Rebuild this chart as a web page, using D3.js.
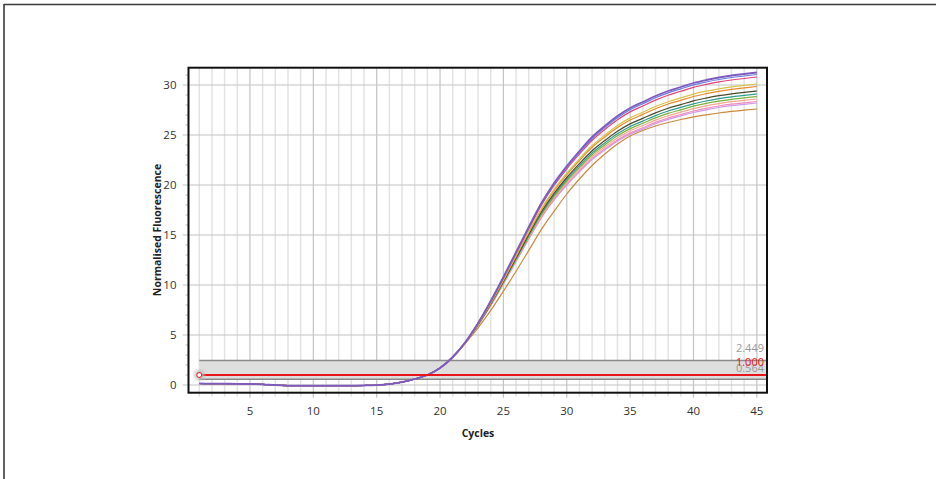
<!DOCTYPE html>
<html>
<head>
<meta charset="utf-8">
<script src="https://cdn.jsdelivr.net/npm/d3@7"></script>
<style>
  html, body { margin: 0; padding: 0; background: #fff; }
  svg { display: block; font-family: "Open Sans", "Noto Sans", sans-serif; }
</style>
</head>
<body>
<svg id="chart" width="936" height="479"></svg>
<script>
// Amplification run: normalised fluorescence per cycle for each well
const cycles = d3.range(1, 46);

const baseline = [0.15, 0.14, 0.13, 0.12, 0.10, 0.07, -0.02, -0.06, -0.07, -0.07, -0.07, -0.07, -0.06, -0.05, -0.02, 0.08, 0.28, 0.60];

const wellPurple = baseline.concat([1.00, 1.70, 2.80, 4.30, 6.20, 8.40, 10.80, 13.30, 15.80, 18.20, 20.20, 21.90, 23.40, 24.80, 25.90, 26.90, 27.70, 28.30, 28.90, 29.40, 29.80, 30.20, 30.50, 30.75, 30.95, 31.10, 31.25]);
const wellBlue = baseline.concat([1.00, 1.70, 2.80, 4.29, 6.18, 8.37, 10.76, 13.24, 15.72, 18.10, 20.09, 21.78, 23.26, 24.65, 25.74, 26.73, 27.53, 28.12, 28.72, 29.21, 29.61, 30.01, 30.30, 30.55, 30.75, 30.90, 31.05]);
const wellPink = baseline.concat([1.00, 1.70, 2.80, 4.28, 6.16, 8.33, 10.70, 13.16, 15.62, 17.99, 19.95, 21.62, 23.09, 24.47, 25.55, 26.53, 27.31, 27.90, 28.49, 28.98, 29.37, 29.77, 30.06, 30.31, 30.50, 30.65, 30.80]);
const wellYellow = baseline.concat([1.00, 1.70, 2.79, 4.26, 6.11, 8.23, 10.54, 12.95, 15.35, 17.65, 19.56, 21.18, 22.62, 23.95, 24.99, 25.95, 26.71, 27.28, 27.85, 28.33, 28.71, 29.09, 29.38, 29.62, 29.81, 29.96, 30.10]);
const wellOrange = baseline.concat([1.00, 1.70, 2.79, 4.25, 6.09, 8.19, 10.49, 12.87, 15.25, 17.53, 19.42, 21.03, 22.45, 23.77, 24.80, 25.74, 26.50, 27.06, 27.62, 28.10, 28.47, 28.85, 29.13, 29.37, 29.56, 29.71, 29.85]);
const wellOlive = baseline.concat([1.00, 1.69, 2.78, 4.24, 6.05, 8.13, 10.38, 12.73, 15.07, 17.32, 19.17, 20.75, 22.14, 23.43, 24.44, 25.37, 26.11, 26.66, 27.21, 27.68, 28.04, 28.41, 28.69, 28.93, 29.12, 29.26, 29.40]);
const wellTeal = baseline.concat([1.00, 1.69, 2.78, 4.23, 6.03, 8.08, 10.32, 12.64, 14.95, 17.17, 19.00, 20.56, 21.94, 23.21, 24.21, 25.12, 25.85, 26.39, 26.94, 27.40, 27.76, 28.12, 28.40, 28.63, 28.82, 28.96, 29.10]);
const wellGreen = baseline.concat([1.00, 1.69, 2.78, 4.22, 6.01, 8.05, 10.26, 12.56, 14.85, 17.05, 18.87, 20.40, 21.76, 23.03, 24.01, 24.92, 25.64, 26.17, 26.71, 27.16, 27.52, 27.88, 28.16, 28.39, 28.57, 28.71, 28.85]);
const wellSalmon = baseline.concat([1.00, 1.69, 2.78, 4.21, 5.99, 8.01, 10.20, 12.49, 14.76, 16.93, 18.73, 20.25, 21.59, 22.84, 23.81, 24.71, 25.42, 25.95, 26.49, 26.93, 27.29, 27.64, 27.91, 28.14, 28.33, 28.46, 28.60]);
const wellRose = baseline.concat([1.00, 1.69, 2.77, 4.20, 5.97, 7.97, 10.15, 12.41, 14.66, 16.82, 18.59, 20.09, 21.42, 22.66, 23.62, 24.50, 25.21, 25.73, 26.26, 26.70, 27.05, 27.40, 27.67, 27.90, 28.08, 28.21, 28.35]);
const wellLilac = baseline.concat([1.00, 1.69, 2.77, 4.19, 5.96, 7.95, 10.11, 12.36, 14.60, 16.74, 18.50, 20.00, 21.32, 22.55, 23.50, 24.38, 25.08, 25.59, 26.12, 26.56, 26.91, 27.25, 27.52, 27.75, 27.93, 28.06, 28.20]);
const wellBrown = baseline.concat([1.00, 1.69, 2.77, 4.17, 5.71, 7.46, 9.38, 11.38, 13.46, 15.56, 17.37, 19.10, 20.60, 21.95, 23.10, 24.10, 24.90, 25.45, 25.90, 26.25, 26.55, 26.82, 27.02, 27.20, 27.36, 27.48, 27.60]);

// drawn bottom-up so the brightest wells sit on top
const wells = [wellBrown, wellLilac, wellRose, wellSalmon, wellGreen, wellTeal, wellOlive, wellOrange, wellYellow, wellPink, wellBlue, wellPurple];
const wellColors = ["#c98a3c", "#cf9be8", "#f28cc0", "#f4a98e", "#7cb342", "#2f9e8f", "#4d4a2c", "#e88b2e", "#d9c24a", "#e0457b", "#6a7de0", "#7d5bbf"];

const xTicks = [5, 10, 15, 20, 25, 30, 35, 40, 45];
const yTicks = [0, 5, 10, 15, 20, 25, 30];

const threshold = 1.000;
const bandTop = 2.449;
const bandBottom = 0.564;
const thresholdLabels = ["2.449", "1.000", "0.564"];

const svg = d3.select("#chart");

// window frame (top and left edges)
svg.append("line").attr("x1", 4).attr("x2", 936).attr("y1", 4.5).attr("y2", 4.5)
  .attr("stroke", "#3a3a3a").attr("stroke-width", 1.6);
svg.append("line").attr("x1", 4).attr("x2", 4).attr("y1", 4).attr("y2", 479)
  .attr("stroke", "#3a3a3a").attr("stroke-width", 1.6);

const plot = { left: 188.5, right: 767, top: 67.7, bottom: 392.7 };

const x = d3.scaleLinear().domain([0.15, 45.8]).range([plot.left, plot.right]);
const y = d3.scaleLinear().domain([-0.77, 31.73]).range([plot.bottom, plot.top]);

const g = svg.append("g");

// minor vertical grid: every cycle, a little past the axis
g.append("g").selectAll("line")
  .data(d3.range(1, 46).filter(d => d % 5 !== 0))
  .join("line")
  .attr("x1", d => x(d)).attr("x2", d => x(d))
  .attr("y1", plot.top).attr("y2", plot.bottom + 4)
  .attr("stroke", "#e3e3e3").attr("stroke-width", 1.5);

// major vertical grid
g.append("g").selectAll("line")
  .data(xTicks)
  .join("line")
  .attr("x1", d => x(d)).attr("x2", d => x(d))
  .attr("y1", plot.top).attr("y2", plot.bottom + 5)
  .attr("stroke", "#c4c4c4").attr("stroke-width", 1.2);

// major horizontal grid
g.append("g").selectAll("line")
  .data(yTicks)
  .join("line")
  .attr("x1", plot.left - 6).attr("x2", plot.right)
  .attr("y1", d => y(d)).attr("y2", d => y(d))
  .attr("stroke", "#c4c4c4").attr("stroke-width", 1.2);

// minor y ticks
g.append("g").selectAll("line")
  .data(d3.range(0, 32).filter(d => d % 5 !== 0))
  .join("line")
  .attr("x1", plot.left - 3).attr("x2", plot.left)
  .attr("y1", d => y(d)).attr("y2", d => y(d))
  .attr("stroke", "#bdbdbd").attr("stroke-width", 1);

// threshold band
g.append("rect")
  .attr("x", x(1)).attr("width", plot.right - x(1))
  .attr("y", y(bandTop)).attr("height", y(bandBottom) - y(bandTop))
  .attr("fill", "#dedede");
[bandTop, bandBottom].forEach(v => {
  g.append("line").attr("x1", x(1)).attr("x2", plot.right)
    .attr("y1", y(v)).attr("y2", y(v))
    .attr("stroke", "#8a8a8a").attr("stroke-width", 1.5);
});

// threshold labels
const labelX = plot.right - 3;
g.append("text").attr("x", labelX).attr("y", y(bandTop) - 9)
  .attr("text-anchor", "end").attr("font-size", 11).attr("fill", "#9a9a9a")
  .text(thresholdLabels[0]);
g.append("text").attr("x", labelX).attr("y", y(bandBottom) - 7.5)
  .attr("text-anchor", "end").attr("font-size", 11).attr("fill", "#9a9a9a")
  .text(thresholdLabels[2]);
g.append("text").attr("x", labelX).attr("y", y(threshold) - 9.5)
  .attr("text-anchor", "end").attr("font-size", 11).attr("fill", "#e8131b")
  .text(thresholdLabels[1]);

// amplification curves
const line = d3.line()
  .x((d, i) => x(cycles[i]))
  .y(d => y(d))
  .curve(d3.curveMonotoneX);

g.append("g").selectAll("path")
  .data(wells)
  .join("path")
  .attr("d", line)
  .attr("fill", "none")
  .attr("stroke", (d, i) => wellColors[i])
  .attr("stroke-width", (d, i) => i === wells.length - 1 ? 1.8 : 1.2);

// threshold line and handle
g.append("line").attr("x1", x(1)).attr("x2", plot.right)
  .attr("y1", y(threshold)).attr("y2", y(threshold))
  .attr("stroke", "#e8131b").attr("stroke-width", 2);
const defs = svg.append("defs");
defs.append("filter").attr("id", "soft").append("feGaussianBlur").attr("stdDeviation", 2);
g.append("circle").attr("cx", x(1)).attr("cy", y(threshold)).attr("r", 5)
  .attr("fill", "#bbb").attr("filter", "url(#soft)");
g.append("circle").attr("cx", x(1)).attr("cy", y(threshold)).attr("r", 2.5)
  .attr("fill", "#fff").attr("stroke", "#e8131b").attr("stroke-width", 1);

// plot frame
g.append("rect")
  .attr("x", plot.left).attr("y", plot.top)
  .attr("width", plot.right - plot.left).attr("height", plot.bottom - plot.top)
  .attr("fill", "none").attr("stroke", "#111").attr("stroke-width", 2);

// tick labels
g.append("g").selectAll("text")
  .data(xTicks)
  .join("text")
  .attr("x", d => x(d)).attr("y", plot.bottom + 22)
  .attr("text-anchor", "middle").attr("font-size", 11.5).attr("fill", "#333")
  .text(d => d);
g.append("g").selectAll("text")
  .data(yTicks)
  .join("text")
  .attr("x", plot.left - 12).attr("y", d => y(d) + 4)
  .attr("text-anchor", "end").attr("font-size", 11.5).attr("fill", "#333")
  .text(d => d);

// axis titles
g.append("text").attr("x", 478).attr("y", 437)
  .attr("text-anchor", "middle").attr("font-size", 10.5).attr("font-weight", "bold").attr("fill", "#222")
  .text("Cycles");
g.append("text")
  .attr("transform", `translate(161,230) rotate(-90)`)
  .attr("text-anchor", "middle").attr("font-size", 10.5).attr("font-weight", "bold").attr("fill", "#222")
  .text("Normalised Fluorescence");
</script>
</body>
</html>
